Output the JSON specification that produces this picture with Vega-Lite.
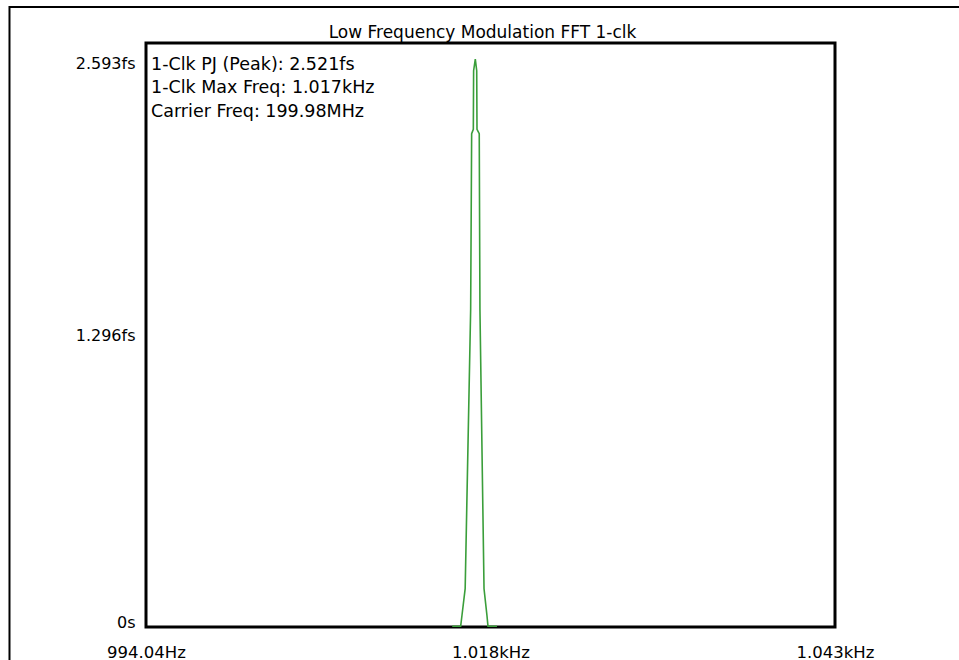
{
  "$schema": "https://vega.github.io/schema/vega-lite/v6.json",
  "width": 689,
  "height": 584,
  "autosize": {"type": "none"},
  "padding": {"left": 146, "top": 43, "right": 124, "bottom": 33},
  "background": "white",
  "config": {
    "view": {"stroke": "#000", "strokeWidth": 3},
    "font": "DejaVu Sans",
    "axis": {"labelFont": "DejaVu Sans", "labelFontSize": 16.5, "labelColor": "#000", "ticks": false, "domain": false, "grid": false}
  },
  "title": {"text": "Low Frequency Modulation FFT 1-clk", "fontSize": 17, "fontWeight": "normal", "color": "#000", "anchor": "middle", "frame": "group", "offset": -36, "dx": -8, "font": "DejaVu Sans"},
  "datasets": {
    "spectrum": [
      {"freq": 1015.80, "jitter": 0.003},
      {"freq": 1016.40, "jitter": 0.004},
      {"freq": 1016.49, "jitter": 0.05},
      {"freq": 1016.72, "jitter": 0.17},
      {"freq": 1017.11, "jitter": 1.41},
      {"freq": 1017.18, "jitter": 2.19},
      {"freq": 1017.30, "jitter": 2.21},
      {"freq": 1017.32, "jitter": 2.47},
      {"freq": 1017.44, "jitter": 2.521},
      {"freq": 1017.54, "jitter": 2.47},
      {"freq": 1017.56, "jitter": 2.21},
      {"freq": 1017.72, "jitter": 2.19},
      {"freq": 1017.77, "jitter": 1.41},
      {"freq": 1018.06, "jitter": 0.17},
      {"freq": 1018.27, "jitter": 0.05},
      {"freq": 1018.34, "jitter": 0.004},
      {"freq": 1018.98, "jitter": 0.003}
    ],
    "frame": [
      {"freq": 984.34, "freq2": 1070, "jitter": -0.5, "jitter2": 2.753}
    ],
    "notes": [
      {"text": "1-Clk PJ (Peak): 2.521fs\n1-Clk Max Freq: 1.017kHz\nCarrier Freq: 199.98MHz"}
    ]
  },
  "layer": [
    {
      "data": {"name": "spectrum"},
      "mark": {"type": "line", "color": "#3a9e3a", "strokeWidth": 1.6},
      "encoding": {
        "x": {
          "field": "freq", "type": "quantitative",
          "scale": {"domain": [994.04, 1043], "nice": false, "zero": false},
          "axis": {"values": [994.04, 1018.52, 1043], "labelExpr": "datum.value < 1000 ? '994.04Hz' : (datum.value < 1030 ? '1.018kHz' : '1.043kHz')", "title": null, "labelFlush": false, "labelPadding": 17}
        },
        "y": {
          "field": "jitter", "type": "quantitative",
          "scale": {"domain": [0, 2.593], "nice": false},
          "axis": {"values": [0.018, 1.2965, 2.5], "labelExpr": "datum.value < 0.5 ? '0s' : (datum.value < 2 ? '1.296fs' : '2.593fs')", "title": null, "labelPadding": 11, "labelFontSize": 16}
        }
      }
    },
    {
      "data": {"name": "frame"},
      "mark": {"type": "rect", "fill": null, "fillOpacity": 0, "stroke": "#000", "strokeWidth": 2, "clip": false},
      "encoding": {
        "x": {
          "field": "freq", "type": "quantitative",
          "scale": {"domain": [994.04, 1043], "nice": false, "zero": false},
          "axis": {"values": [994.04, 1018.52, 1043], "labelExpr": "datum.value < 1000 ? '994.04Hz' : (datum.value < 1030 ? '1.018kHz' : '1.043kHz')", "title": null, "labelFlush": false, "labelPadding": 17}
        },
        "x2": {"field": "freq2"},
        "y": {
          "field": "jitter", "type": "quantitative",
          "scale": {"domain": [0, 2.593], "nice": false},
          "axis": {"values": [0.018, 1.2965, 2.5], "labelExpr": "datum.value < 0.5 ? '0s' : (datum.value < 2 ? '1.296fs' : '2.593fs')", "title": null, "labelPadding": 11, "labelFontSize": 16}
        },
        "y2": {"field": "jitter2"}
      }
    },
    {
      "data": {"name": "notes"},
      "mark": {"type": "text", "align": "left", "baseline": "top", "dx": 5, "dy": 12.5, "fontSize": 17.5, "color": "#000", "lineBreak": "\n", "lineHeight": 23.5, "font": "DejaVu Sans"},
      "encoding": {
        "x": {
          "datum": 994.04, "type": "quantitative",
          "scale": {"domain": [994.04, 1043], "nice": false, "zero": false},
          "axis": {"values": [994.04, 1018.52, 1043], "labelExpr": "datum.value < 1000 ? '994.04Hz' : (datum.value < 1030 ? '1.018kHz' : '1.043kHz')", "title": null, "labelFlush": false, "labelPadding": 17}
        },
        "y": {
          "datum": 2.593, "type": "quantitative",
          "scale": {"domain": [0, 2.593], "nice": false},
          "axis": {"values": [0.018, 1.2965, 2.5], "labelExpr": "datum.value < 0.5 ? '0s' : (datum.value < 2 ? '1.296fs' : '2.593fs')", "title": null, "labelPadding": 11, "labelFontSize": 16}
        },
        "text": {"field": "text"}
      }
    }
  ]
}
